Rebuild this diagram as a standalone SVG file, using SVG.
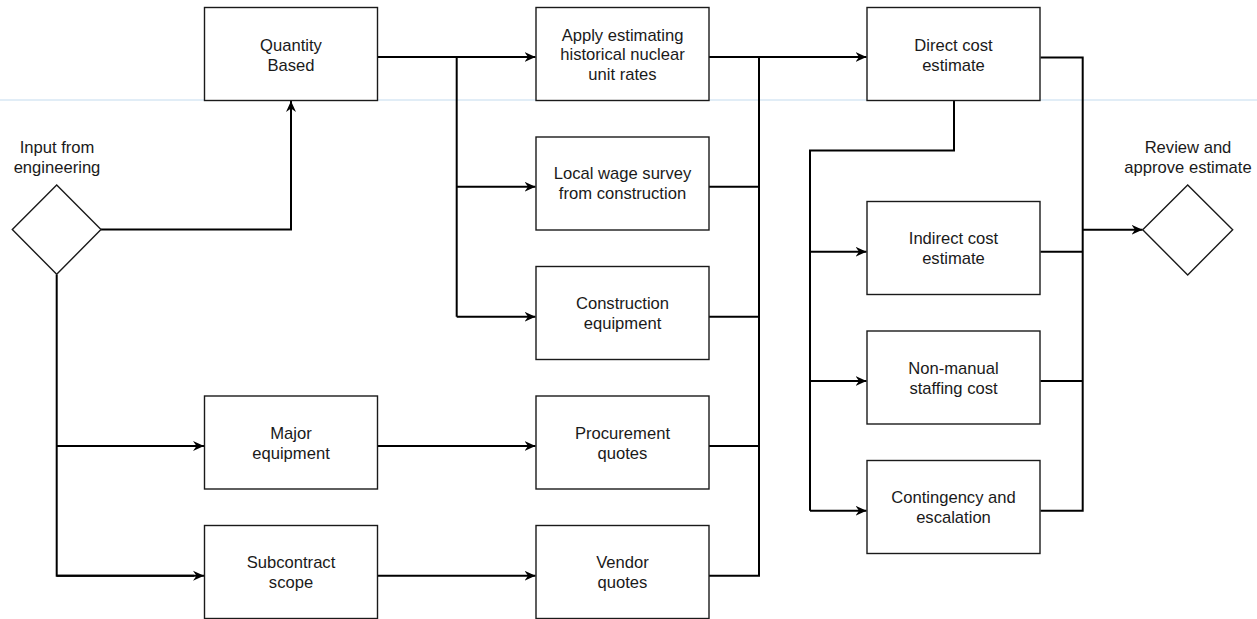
<svg xmlns="http://www.w3.org/2000/svg" width="1257" height="619" viewBox="0 0 1257 619">
<style>
.box{fill:#fff;stroke:#1a1a1a;stroke-width:1.4}
.dia{fill:#fff;stroke:#1a1a1a;stroke-width:1.4}
.c{fill:none;stroke:#000;stroke-width:2}
.a{marker-end:url(#arr)}
text{font-family:"Liberation Sans",Arial,sans-serif;font-size:16.6px;fill:#1a1a1a;text-anchor:middle}
</style>
<defs>
<marker id="arr" markerUnits="userSpaceOnUse" markerWidth="12" markerHeight="12" refX="11" refY="6" orient="auto">
<path d="M0,1 L11,6 L0,11 L3.5,6 z" fill="#000"/>
</marker>
</defs>
<rect width="1257" height="619" fill="#fff"/>
<line x1="0" y1="100" x2="1257" y2="100" stroke="#c3dbee" stroke-width="1"/>
<g id="connectors">
<polyline class="c a" points="101,229.5 291,229.5 291,101"/>
<polyline class="c" points="56.7,274.5 56.7,575.7 194,575.7"/>
<line class="c a" x1="56.7" y1="575.7" x2="204" y2="575.7"/>
<line class="c a" x1="56.7" y1="446" x2="204" y2="446"/>
<line class="c a" x1="378" y1="57" x2="535.5" y2="57"/>
<polyline class="c" points="456.7,57 456.7,316.7"/>
<line class="c a" x1="456.7" y1="186.7" x2="535.5" y2="186.7"/>
<line class="c a" x1="456.7" y1="316.7" x2="535.5" y2="316.7"/>
<line class="c a" x1="378" y1="446" x2="535.5" y2="446"/>
<line class="c a" x1="378" y1="575.7" x2="535.5" y2="575.7"/>
<line class="c a" x1="709" y1="57" x2="866.5" y2="57"/>
<polyline class="c" points="759,57 759,575.7 709,575.7"/>
<line class="c" x1="709" y1="186.7" x2="759" y2="186.7"/>
<line class="c" x1="709" y1="316.7" x2="759" y2="316.7"/>
<line class="c" x1="709" y1="446" x2="759" y2="446"/>
<polyline class="c" points="954,100.5 954,150.5 810,150.5 810,510.7"/>
<line class="c a" x1="810" y1="251.7" x2="866.5" y2="251.7"/>
<line class="c a" x1="810" y1="381" x2="866.5" y2="381"/>
<line class="c a" x1="810" y1="510.7" x2="866.5" y2="510.7"/>
<polyline class="c" points="1040.5,57.5 1082.7,57.5 1082.7,510.7 1040.5,510.7"/>
<line class="c" x1="1040.5" y1="251.7" x2="1082.7" y2="251.7"/>
<line class="c" x1="1040.5" y1="381" x2="1082.7" y2="381"/>
<line class="c a" x1="1082.7" y1="229.7" x2="1142.5" y2="229.7"/>
</g>
<g id="input">
<polygon class="dia" points="12.3,229.5 56.7,185 101,229.5 56.7,274.3"/>
<text x="57" y="152.6">Input from</text>
<text x="57" y="172.6">engineering</text>
</g>
<g id="review">
<polygon class="dia" points="1142.7,229.7 1187.7,185 1232.7,229.7 1187.7,275"/>
<text x="1188" y="152.6">Review and</text>
<text x="1188" y="172.6">approve estimate</text>
</g>
<g id="quantity">
<rect class="box" x="204.5" y="7.5" width="173" height="93"/>
<text x="291" y="50.8">Quantity</text>
<text x="291" y="70.8">Based</text>
</g>
<g id="major">
<rect class="box" x="204.5" y="396" width="173" height="93"/>
<text x="291" y="438.6">Major</text>
<text x="291" y="458.6">equipment</text>
</g>
<g id="subcontract">
<rect class="box" x="204.5" y="525.5" width="173" height="93"/>
<text x="291" y="568">Subcontract</text>
<text x="291" y="588">scope</text>
</g>
<g id="apply">
<rect class="box" x="536" y="7.5" width="173" height="93"/>
<text x="622.5" y="40.8">Apply estimating</text>
<text x="622.5" y="60.3">historical nuclear</text>
<text x="622.5" y="79.8">unit rates</text>
</g>
<g id="wage">
<rect class="box" x="536" y="137" width="173" height="93"/>
<text x="622.5" y="179">Local wage survey</text>
<text x="622.5" y="199">from construction</text>
</g>
<g id="construction">
<rect class="box" x="536" y="266.5" width="173" height="93"/>
<text x="622.5" y="309">Construction</text>
<text x="622.5" y="329">equipment</text>
</g>
<g id="procurement">
<rect class="box" x="536" y="396" width="173" height="93"/>
<text x="622.5" y="438.6">Procurement</text>
<text x="622.5" y="458.6">quotes</text>
</g>
<g id="vendor">
<rect class="box" x="536" y="525.5" width="173" height="93"/>
<text x="622.5" y="568">Vendor</text>
<text x="622.5" y="588">quotes</text>
</g>
<g id="direct">
<rect class="box" x="867" y="7.5" width="173" height="93"/>
<text x="953.5" y="50.8">Direct cost</text>
<text x="953.5" y="70.8">estimate</text>
</g>
<g id="indirect">
<rect class="box" x="867" y="201.5" width="173" height="93"/>
<text x="953.5" y="244">Indirect cost</text>
<text x="953.5" y="264">estimate</text>
</g>
<g id="nonmanual">
<rect class="box" x="867" y="331" width="173" height="93"/>
<text x="953.5" y="373.6">Non-manual</text>
<text x="953.5" y="393.6">staffing cost</text>
</g>
<g id="contingency">
<rect class="box" x="867" y="460.5" width="173" height="93"/>
<text x="953.5" y="503">Contingency and</text>
<text x="953.5" y="523">escalation</text>
</g>
</svg>
